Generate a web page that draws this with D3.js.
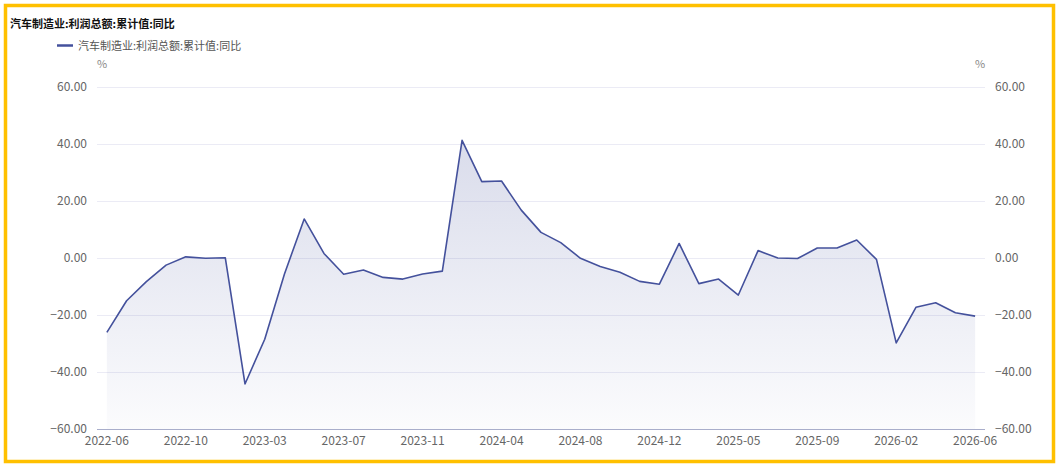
<!DOCTYPE html>
<html>
<head>
<meta charset="utf-8">
<script src="https://cdn.jsdelivr.net/npm/d3@7"></script>
<style>
  body { margin: 0; background: #fff; }
  text { font-family: "Noto Sans CJK SC", "Noto Sans", sans-serif; }
</style>
</head>
<body>
<script>
// chart data
var seriesName = "汽车制造业:利润总额:累计值:同比";

var months = [
  "2022-06","2022-07","2022-08","2022-09","2022-10","2022-11","2022-12",
  "2023-02","2023-03","2023-04","2023-05","2023-06","2023-07","2023-08","2023-09","2023-10","2023-11","2023-12",
  "2024-02","2024-03","2024-04","2024-05","2024-06","2024-07","2024-08","2024-09","2024-10","2024-11","2024-12",
  "2025-02","2025-03","2025-04","2025-05","2025-06","2025-07","2025-08","2025-09","2025-10","2025-11","2025-12",
  "2026-02","2026-03","2026-04","2026-05","2026-06"
];

var yoy = [
  -26.1, -15.0, -8.3, -2.5, 0.4, -0.1, 0.1,
  -44.2, -28.5, -5.6, 13.7, 1.6, -5.7, -4.2, -6.8, -7.4, -5.6, -4.6,
  41.3, 26.8, 27.0, 16.8, 9.0, 5.4, -0.1, -3.0, -5.0, -8.2, -9.2,
  5.1, -9.0, -7.4, -13.0, 2.6, 0.0, -0.2, 3.5, 3.5, 6.3, -0.5,
  -29.8, -17.3, -15.7, -19.2, -20.4
];

var xTickLabels = ["2022-06","2022-10","2023-03","2023-07","2023-11","2024-04",
                   "2024-08","2024-12","2025-05","2025-09","2026-02","2026-06"];
var yTicks = [-60, -40, -20, 0, 20, 40, 60];

var W = 1062, H = 467;
var plotL = 97, plotR = 985, plotT = 87, plotB = 429;
var lineColor = "#44519c";

var svg = d3.select("body").append("svg")
  .attr("width", W)
  .attr("height", H);

var data = months.map(function(m, i) { return {m: m, v: yoy[i]}; });

var x = d3.scalePoint().domain(months).range([plotL, plotR]).padding(0.5);
var y = d3.scaleLinear().domain([-60, 60]).range([plotB, plotT]);

// yellow frame
svg.append("rect")
  .attr("x", 5.5).attr("y", 5.5)
  .attr("width", 1048).attr("height", 456)
  .attr("fill", "none")
  .attr("stroke", "#ffc000")
  .attr("stroke-width", 3.5);

// title
svg.append("text")
  .attr("x", 10).attr("y", 28)
  .attr("font-size", 11).attr("font-weight", "bold")
  .attr("fill", "#111")
  .text(seriesName);

// legend
svg.append("line")
  .attr("x1", 57).attr("x2", 73).attr("y1", 45.5).attr("y2", 45.5)
  .attr("stroke", lineColor).attr("stroke-width", 2.5);
svg.append("text")
  .attr("x", 78).attr("y", 50)
  .attr("font-size", 11).attr("fill", "#555")
  .text(seriesName);

// unit names
svg.append("text").attr("x", 102).attr("y", 68)
  .attr("text-anchor", "middle").attr("font-size", 11).attr("fill", "#888").text("%");
svg.append("text").attr("x", 980).attr("y", 68)
  .attr("text-anchor", "middle").attr("font-size", 11).attr("fill", "#888").text("%");

// grid lines
svg.append("g").selectAll("line")
  .data(yTicks.filter(function(t) { return t !== -60; }))
  .enter().append("line")
  .attr("x1", plotL).attr("x2", plotR)
  .attr("y1", function(d) { return y(d) + 0.5; })
  .attr("y2", function(d) { return y(d) + 0.5; })
  .attr("stroke", "#ebebf5");

// y labels left and right
var yfmt = d3.format(".2f");
svg.append("g").selectAll("text")
  .data(yTicks).enter().append("text")
  .attr("x", plotL - 10).attr("y", function(d) { return y(d); })
  .attr("dy", "0.35em").attr("text-anchor", "end")
  .attr("font-size", 12).attr("fill", "#666")
  .text(function(d) { return yfmt(d); });
svg.append("g").selectAll("text")
  .data(yTicks).enter().append("text")
  .attr("x", plotR + 10).attr("y", function(d) { return y(d); })
  .attr("dy", "0.35em").attr("text-anchor", "start")
  .attr("font-size", 12).attr("fill", "#666")
  .text(function(d) { return yfmt(d); });

// area gradient
var grad = svg.append("defs").append("linearGradient")
  .attr("id", "areaGrad")
  .attr("x1", 0).attr("y1", 0).attr("x2", 0).attr("y2", 1);
grad.append("stop").attr("offset", "0%").attr("stop-color", lineColor).attr("stop-opacity", 0.2);
grad.append("stop").attr("offset", "100%").attr("stop-color", lineColor).attr("stop-opacity", 0.02);

var area = d3.area()
  .x(function(d) { return x(d.m); })
  .y0(y(-60))
  .y1(function(d) { return y(d.v); });

svg.append("path")
  .datum(data)
  .attr("d", area)
  .attr("fill", "url(#areaGrad)");

// x axis line
svg.append("line")
  .attr("x1", plotL).attr("x2", plotR)
  .attr("y1", plotB + 0.5).attr("y2", plotB + 0.5)
  .attr("stroke", "#a9aecb");

// x labels
svg.append("g").selectAll("text")
  .data(xTickLabels).enter().append("text")
  .attr("x", function(d) { return x(d); })
  .attr("y", 445)
  .attr("text-anchor", "middle")
  .attr("font-size", 12).attr("fill", "#666")
  .text(function(d) { return d; });

// series line
var line = d3.line()
  .x(function(d) { return x(d.m); })
  .y(function(d) { return y(d.v); });

svg.append("path")
  .datum(data)
  .attr("d", line)
  .attr("fill", "none")
  .attr("stroke", lineColor)
  .attr("stroke-width", 1.6)
  .attr("stroke-linejoin", "round");
</script>
</body>
</html>
